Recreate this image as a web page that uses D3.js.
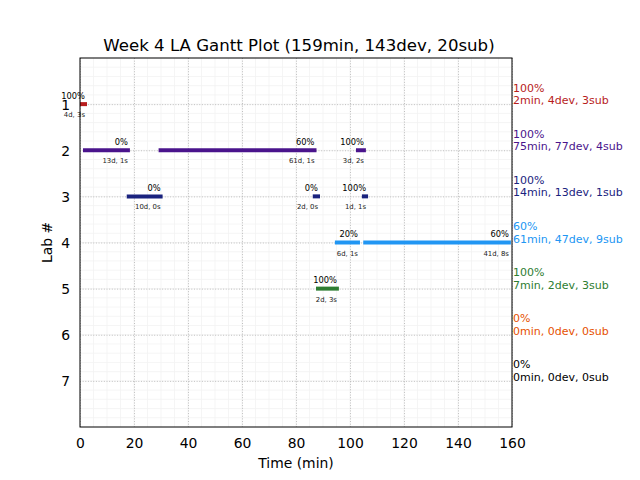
<!DOCTYPE html>
<html><head><meta charset="utf-8">
<script src="https://cdn.jsdelivr.net/npm/d3@7"></script>
<style>body{margin:0;background:#fff;} text{font-family:"DejaVu Sans",sans-serif;}</style>
</head><body>
<svg id="c" width="640" height="480"></svg>
<script>
const title = "Week 4 LA Gantt Plot (159min, 143dev, 20sub)";
const labs = [1,2,3,4,5,6,7];
const labColors = ["#b71c1c","#4a148c","#1a237e","#2196f3","#2e7d32","#e65100","#000000"];
const summaryPct = ["100%","100%","100%","60%","100%","0%","0%"];
const summaryText = ["2min, 4dev, 3sub","75min, 77dev, 4sub","14min, 13dev, 1sub","61min, 47dev, 9sub","7min, 2dev, 3sub","0min, 0dev, 0sub","0min, 0dev, 0sub"];
const segLab   = [1, 2, 2, 2, 3, 3, 3, 4, 4, 5];
const segStart = [0, 1.85, 29.85, 102.95, 18.05, 86.95, 105.15, 95.15, 105.65, 88.15];
const segEnd   = [1.85, 17.75, 86.85, 105.15, 29.85, 88.15, 105.95, 102.95, 158.85, 95.15];
const segPct   = ["100%","0%","60%","100%","0%","0%","100%","20%","60%","100%"];
const segInfo  = ["4d, 3s","13d, 1s","61d, 1s","3d, 2s","10d, 0s","2d, 0s","1d, 1s","6d, 1s","41d, 8s","2d, 3s"];
const xTicks = [0,20,40,60,80,100,120,140,160];

const svg = d3.select("#c");
const L=80, R=512, T=58, B=427;
const x = d3.scaleLinear().domain([0,160]).range([L,R]);
const y = d3.scaleLinear().domain([0,8]).range([T,B]);

// minor grid
const g = svg.append("g");
g.selectAll(".mx").data(d3.range(0,161,5)).join("line")
  .attr("x1",d=>x(d)).attr("x2",d=>x(d)).attr("y1",T).attr("y2",B)
  .attr("stroke","#f2f2f2").attr("stroke-width",0.8);
g.selectAll(".my").data(d3.range(0,40).map(i=>i*0.2)).join("line")
  .attr("y1",d=>y(d)).attr("y2",d=>y(d)).attr("x1",L).attr("x2",R)
  .attr("stroke","#f2f2f2").attr("stroke-width",0.8);
// major grid
g.selectAll(".Mx").data(xTicks).join("line")
  .attr("x1",d=>x(d)+0.5).attr("x2",d=>x(d)+0.5).attr("y1",T).attr("y2",B)
  .attr("stroke","#b0b0b0").attr("stroke-width",0.8).attr("stroke-dasharray","1,1.65");
g.selectAll(".My").data(labs).join("line")
  .attr("y1",d=>y(d)+0.5).attr("y2",d=>y(d)+0.5).attr("x1",L).attr("x2",R)
  .attr("stroke","#b0b0b0").attr("stroke-width",0.8).attr("stroke-dasharray","1,1.65");

svg.append("clipPath").attr("id","clip").append("rect").attr("x",L).attr("y",T).attr("width",R-L).attr("height",B-T);

// bars
svg.append("g").attr("clip-path","url(#clip)").selectAll("line").data(segLab.map((l,i)=>i)).join("line")
  .attr("x1",i=>x(segStart[i])).attr("x2",i=>x(segEnd[i]))
  .attr("y1",i=>y(segLab[i])).attr("y2",i=>y(segLab[i]))
  .attr("stroke",i=>labColors[segLab[i]-1]).attr("stroke-width",4).attr("stroke-linecap","square");

// bar labels
svg.append("g").selectAll("text").data(segLab.map((l,i)=>i)).join("text")
  .attr("x",i=>x(segEnd[i])).attr("y",i=>y(segLab[i])-5.5)
  .attr("text-anchor","end").attr("font-size",8.3).attr("fill","#000").text(i=>segPct[i]);
svg.append("g").selectAll("text").data(segLab.map((l,i)=>i)).join("text")
  .attr("x",i=>x(segEnd[i])).attr("y",i=>y(segLab[i])+13)
  .attr("text-anchor","end").attr("font-size",6.9).attr("fill","#222").text(i=>segInfo[i]);

// frame
svg.append("rect").attr("x",L).attr("y",T).attr("width",R-L).attr("height",B-T)
  .attr("fill","none").attr("stroke","#000").attr("stroke-width",1);

// x axis
const xa = svg.append("g").attr("transform",`translate(0,${B})`)
  .call(d3.axisBottom(x).tickValues(xTicks).tickSize(0).tickPadding(0).tickFormat(d3.format("d")));
xa.select(".domain").remove();
xa.selectAll("text").attr("font-size",13.9).attr("fill","#000").attr("dy",0).attr("y",21);
// y axis
const ya = svg.append("g").attr("transform",`translate(${L},0)`)
  .call(d3.axisLeft(y).tickValues(labs).tickSize(0).tickPadding(0).tickFormat(d3.format("d")));
ya.select(".domain").remove();
ya.selectAll("text").attr("font-size",13.9).attr("fill","#000").attr("x",-10).attr("dy","0.36em");

// right summary
const rs = svg.append("g");
rs.selectAll(".p").data(labs).join("text").attr("x",R+1).attr("y",d=>y(d)-12.5)
  .attr("font-size",11).attr("fill",(d,i)=>labColors[i]).text((d,i)=>summaryPct[i]);
rs.selectAll(".s").data(labs).join("text").attr("x",R+1).attr("y",d=>y(d))
  .attr("font-size",11).attr("fill",(d,i)=>labColors[i]).text((d,i)=>summaryText[i]);

// title & labels
svg.append("text").attr("x",299).attr("y",51).attr("text-anchor","middle").attr("font-size",16.6).text(title);
svg.append("text").attr("x",(L+R)/2).attr("y",468).attr("text-anchor","middle").attr("font-size",13.9).text("Time (min)");
svg.append("text").attr("transform",`translate(52,${(T+B)/2}) rotate(-90)`).attr("text-anchor","middle").attr("font-size",13.9).text("Lab #");
</script>
</body></html>
